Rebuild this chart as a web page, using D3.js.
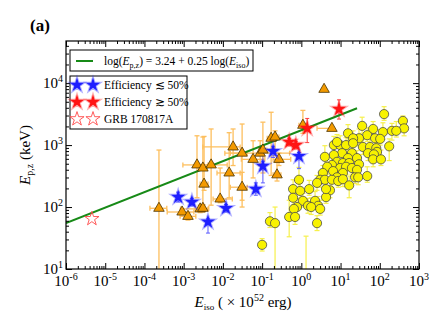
<!DOCTYPE html>
<html>
<head>
<meta charset="utf-8">
<script src="https://cdn.jsdelivr.net/npm/d3@7"></script>
<style>
body { margin: 0; background: #fff; }
text { font-family: "Liberation Serif", "Times New Roman", "DejaVu Serif", serif; fill: #000; }
</style>
</head>
<body>
<svg id="chart" width="447" height="333"></svg>
<script>
// values are log10: Eiso in 1e52 erg, Ep,z in keV
var yelLogE = [2.11, 2.59, 2.62, 1.55, 1.83, 2.08, 2.31, 2.42, 1.19, 1.68,
  1.47, 1.32, 1.88, 2.01, 2.24, 0.83, 0.99, 1.14, 1.32, 1.57,
  1.75, 1.91, 1.93, 1.04, 1.29, 1.70, 1.85, 0.83, 0.60, 1.19,
  1.83, 2.03, 0.91, 1.06, 1.22, 1.42, 0.78, 1.47, 0.66, 0.99,
  1.14, 1.29, 0.81, 1.42, 0.55, 1.06, 0.91, 1.37, 1.45, 1.68,
  0.48, 0.60, 0.78, 0.94, 1.06, -0.06, 0.40, 1.22, 0.73, -0.21,
  -0.03, 0.20, -0.21, 0.04, 0.35, 0.63, 0.17, 0.43, -0.11, -0.19,
  0.25, 0.48, -0.31, -0.16, 0.40, -0.80, -0.67, -1.00, 0.91, 0.12, 0.63];
var yelLogEp = [3.50, 3.39, 3.27, 3.31, 3.26, 3.21, 3.23, 3.23, 3.19, 3.16,
  3.11, 3.11, 3.11, 3.10, 2.98, 3.00, 3.00, 3.00, 3.03, 2.97,
  2.97, 2.95, 2.89, 2.87, 2.87, 2.87, 2.85, 2.84, 2.81, 2.79,
  2.77, 2.77, 2.73, 2.71, 2.71, 2.79, 2.68, 2.69, 2.65, 2.63,
  2.65, 2.63, 2.58, 2.60, 2.55, 2.55, 2.48, 2.48, 2.48, 2.50,
  2.44, 2.44, 2.44, 2.42, 2.45, 2.44, 2.39, 2.35, 2.27, 2.29,
  2.26, 2.29, 2.15, 2.10, 2.10, 2.16, 2.02, 2.02, 2.00, 1.97,
  2.00, 1.97, 1.84, 1.84, 1.74, 1.77, 1.74, 1.39, 3.05, 0.82, 2.29];
var yelErrUp = [0.12, 0.08, 0.15, 0.14, 0.12, 0.15, 0.12, 0.15, 0.14, 0.12,
  0.15, 0.12, 0.14, 0.15, 0.12, 0.14, 0.15, 0.12, 0.14, 0.12,
  0.15, 0.12, 0.14, 0.15, 0.12, 0.14, 0.15, 0.12, 0.18, 0.14,
  0.12, 0.15, 0.12, 0.14, 0.15, 0.12, 0.14, 0.15, 0.12, 0.14,
  0.15, 0.12, 0.14, 0.15, 0.12, 0.14, 0.15, 0.12, 0.14, 0.15,
  0.12, 0.14, 0.15, 0.12, 0.14, 0.20, 0.12, 0.15, 0.14, 0.15,
  0.12, 0.14, 0.15, 0.12, 0.15, 0.14, 0.12, 0.15, 0.14, 0.12,
  0.15, 0.14, 0.27, 0.15, 0.12, 0.14, 0.26, 0.10, 0.12, 0.71, 0.14];
var yelErrDn = [0.10, 0.15, 0.12, 0.12, 0.10, 0.12, 0.15, 0.10, 0.12, 0.10,
  0.12, 0.10, 0.12, 0.10, 0.23, 0.12, 0.10, 0.12, 0.10, 0.12,
  0.10, 0.12, 0.10, 0.12, 0.10, 0.12, 0.10, 0.12, 0.15, 0.10,
  0.12, 0.10, 0.12, 0.10, 0.12, 0.10, 0.12, 0.10, 0.12, 0.10,
  0.12, 0.10, 0.12, 0.10, 0.12, 0.10, 0.12, 0.10, 0.12, 0.10,
  0.12, 0.10, 0.12, 0.10, 0.12, 0.15, 0.12, 0.20, 0.12, 0.10,
  0.12, 0.10, 0.12, 0.10, 0.12, 0.10, 0.12, 0.10, 0.12, 0.10,
  0.12, 0.10, 0.32, 0.12, 0.12, 0.10, 1.00, 0.10, 0.10, 0.00, 0.10];

var triLogE = [-3.63, -3.04, -2.89, -2.58, -2.51, -2.66, -2.51, -2.30, -2.48, -2.07,
  -1.84, -1.74, -1.51, -1.51, -1.23, -1.05, -0.98, -0.77, -0.67, -0.57,
  -0.62, 0.04, 0.58, 0.78];
var triLogEp = [1.98, 1.92, 1.85, 1.97, 1.98, 2.68, 2.63, 2.68, 2.37, 2.13,
  2.55, 2.97, 2.87, 2.32, 2.77, 2.87, 2.92, 3.11, 3.13, 2.77,
  2.52, 3.32, 3.90, 3.27];
var triErrXL = [0.23, 0.38, 0.20, 0.50, 0.20, 0.36, 0.10, 0.20, 0.10, 0.18,
  0.31, 0.77, 0.30, 0.30, 0.30, 0.90, 0.10, 0.10, 0.10, 0.15,
  0.10, 0.10, 0, 0.38];
var triErrXR = [0.20, 0.30, 0.20, 0.20, 0.15, 0.28, 0.10, 0.41, 0.10, 0.31,
  0.28, 0.18, 0.13, 0.13, 0.30, 0.75, 0.10, 0.10, 0.10, 0.30,
  0.10, 0.10, 0, 0];
var triErrYU = [0.94, 0.05, 0.06, 0.06, 0.06, 0.47, 0.50, 0.58, 0.77, 0.50,
  0.65, 0.29, 0.47, 0.24, 0.30, 0.20, 0.45, 0.42, 0.10, 0.10,
  0.20, 0.24, 0, 0];
var triErrYD = [1.30, 0.05, 0.06, 0.06, 0.06, 0.53, 0.60, 0.65, 0.10, 0.06,
  0.40, 0.30, 0.76, 0.32, 0.30, 0.20, 0.37, 0.60, 0.30, 0.10,
  0.10, 0.13, 0, 0];

var blueLogE = [-3.14, -2.79, -2.38, -1.92, -1.16, -0.98, -0.72, -0.06];
var blueLogEp = [2.16, 2.08, 1.76, 1.98, 2.29, 2.66, 2.90, 2.82];
var blueErrU = [0.08, 0.06, 0.05, 0.06, 0.10, 0.08, 0.08, 0.06];
var blueErrD = [0.08, 0.06, 0.18, 0.06, 0.10, 0.27, 0.10, 0.20];

var redLogE = [-0.31, -0.14, 0.15, 0.96];
var redLogEp = [3.05, 3.00, 3.27, 3.58];
var redErrU = [0.06, 0.06, 0.16, 0.15];
var redErrD = [0.06, 0.06, 0.23, 0.16];

var grbLogE = [-5.34];
var grbLogEp = [1.81];

// best fit from the legend
var fitA = 3.24, fitB = 0.25;
var fitLogE = [-6, 1.42];

var xDecades = [-6, -5, -4, -3, -2, -1, 0, 1, 2, 3];
var yDecades = [1, 2, 3, 4];

var svg = d3.select('#chart');
var mLeft = 66, mRight = 419, mTop = 41, mBottom = 269;

var x = d3.scaleLog().domain([1e-6, 1e3]).range([mLeft, mRight]);
var y = d3.scaleLog().domain([10, Math.pow(10, 4.68)]).range([mBottom, mTop]);
var p10 = function (v) { return Math.pow(10, v); };

svg.append('defs').append('clipPath').attr('id', 'plotclip')
  .append('rect').attr('x', mLeft).attr('y', mTop)
  .attr('width', mRight - mLeft).attr('height', mBottom - mTop);

var plot = svg.append('g').attr('clip-path', 'url(#plotclip)');

function errBars(g, xs, ys, xl, xr, yu, yd, color, width, cap) {
  for (var i = 0; i < xs.length; i++) {
    var cx = x(p10(xs[i])), cy = y(p10(ys[i]));
    if (yu[i] > 0 || yd[i] > 0) {
      var y1 = y(p10(ys[i] + yu[i])), y2 = y(p10(ys[i] - yd[i]));
      g.append('line').attr('x1', cx).attr('x2', cx).attr('y1', y1).attr('y2', y2)
        .attr('stroke', color).attr('stroke-width', width);
      if (yu[i] > 0) g.append('line').attr('x1', cx - cap).attr('x2', cx + cap).attr('y1', y1).attr('y2', y1)
        .attr('stroke', color).attr('stroke-width', width);
      if (yd[i] > 0) g.append('line').attr('x1', cx - cap).attr('x2', cx + cap).attr('y1', y2).attr('y2', y2)
        .attr('stroke', color).attr('stroke-width', width);
    }
    if (xl && (xl[i] > 0 || xr[i] > 0)) {
      var x1 = x(p10(xs[i] - xl[i])), x2 = x(p10(xs[i] + xr[i]));
      g.append('line').attr('x1', x1).attr('x2', x2).attr('y1', cy).attr('y2', cy)
        .attr('stroke', color).attr('stroke-width', width);
      if (xl[i] > 0) g.append('line').attr('x1', x1).attr('x2', x1).attr('y1', cy - cap).attr('y2', cy + cap)
        .attr('stroke', color).attr('stroke-width', width);
      if (xr[i] > 0) g.append('line').attr('x1', x2).attr('x2', x2).attr('y1', cy - cap).attr('y2', cy + cap)
        .attr('stroke', color).attr('stroke-width', width);
    }
  }
}

errBars(plot, triLogE, triLogEp, triErrXL, triErrXR, triErrYU, triErrYD, '#fdbf5e', 1.3, 2.5);
errBars(plot, yelLogE, yelLogEp, null, null, yelErrUp, yelErrDn, '#f6f04a', 1.2, 2.5);
errBars(plot, blueLogE, blueLogEp, null, null, blueErrU, blueErrD, '#5a5aff', 1, 2);
errBars(plot, redLogE, redLogEp, null, null, redErrU, redErrD, '#ff4040', 1, 2);

// fit line
var fitLine = d3.line()
  .x(function (d) { return x(p10(d)); })
  .y(function (d) { return y(p10(fitA + fitB * d)); });
plot.append('path').datum(fitLogE).attr('d', fitLine)
  .attr('fill', 'none').attr('stroke', '#178a17').attr('stroke-width', 2);

// yellow circles
plot.selectAll('circle.yel').data(d3.range(yelLogE.length)).enter()
  .append('circle').attr('class', 'yel')
  .attr('cx', function (i) { return x(p10(yelLogE[i])); })
  .attr('cy', function (i) { return y(p10(yelLogEp[i])); })
  .attr('r', 4.6)
  .attr('fill', '#f8f200').attr('stroke', '#4a4a4a').attr('stroke-width', 0.8);

// orange triangles
var tri = d3.symbol().type(d3.symbolTriangle).size(48);
plot.selectAll('path.tri').data(d3.range(triLogE.length)).enter()
  .append('path').attr('class', 'tri').attr('d', tri)
  .attr('transform', function (i) { return 'translate(' + x(p10(triLogE[i])) + ',' + y(p10(triLogEp[i])) + ')'; })
  .attr('fill', '#f39a00').attr('stroke', '#4a3200').attr('stroke-width', 0.8);

var star = d3.symbol().type(d3.symbolStar).size(62);
function stars(g, xs, ys, fill) {
  g.selectAll(null).data(d3.range(xs.length)).enter()
    .append('path').attr('d', star)
    .attr('transform', function (i) { return 'translate(' + x(p10(xs[i])) + ',' + y(p10(ys[i])) + ')'; })
    .attr('fill', fill).attr('stroke', fill).attr('stroke-opacity', 0.35).attr('stroke-width', 2);
}
stars(plot, blueLogE, blueLogEp, '#1f1fff');
stars(plot, redLogE, redLogEp, '#ff1414');
plot.selectAll(null).data(d3.range(grbLogE.length)).enter()
  .append('path').attr('d', star)
  .attr('transform', function (i) { return 'translate(' + x(p10(grbLogE[i])) + ',' + y(p10(grbLogEp[i])) + ')'; })
  .attr('fill', 'none').attr('stroke', '#ff4a4a').attr('stroke-width', 0.9);

// axes: ticks point inward on all four sides
var xMajor = xDecades.map(p10);
var xMinor = [];
xDecades.slice(0, -1).forEach(function (k) { for (var m = 2; m < 10; m++) xMinor.push(m * p10(k)); });
var yMajor = yDecades.map(p10);
var yMinor = [];
yDecades.forEach(function (k) { for (var m = 2; m < 10; m++) { var v = m * p10(k); if (v < p10(4.68)) yMinor.push(v); } });

function drawAxis(axisFn, scale, vals, size, tr) {
  svg.append('g').attr('transform', tr)
    .call(axisFn(scale).tickValues(vals).tickSize(size).tickFormat(''))
    .call(function (g) { g.select('.domain').remove(); })
    .selectAll('line').attr('stroke', '#000').attr('stroke-width', 1);
}
drawAxis(d3.axisBottom, x, xMajor, -6, 'translate(0,' + mBottom + ')');
drawAxis(d3.axisBottom, x, xMinor, -3, 'translate(0,' + mBottom + ')');
drawAxis(d3.axisTop, x, xMajor, -6, 'translate(0,' + mTop + ')');
drawAxis(d3.axisTop, x, xMinor, -3, 'translate(0,' + mTop + ')');
drawAxis(d3.axisLeft, y, yMajor, -6, 'translate(' + mLeft + ',0)');
drawAxis(d3.axisLeft, y, yMinor, -3, 'translate(' + mLeft + ',0)');
drawAxis(d3.axisRight, y, yMajor, -6, 'translate(' + mRight + ',0)');
drawAxis(d3.axisRight, y, yMinor, -3, 'translate(' + mRight + ',0)');

svg.append('rect').attr('x', mLeft).attr('y', mTop)
  .attr('width', mRight - mLeft).attr('height', mBottom - mTop)
  .attr('fill', 'none').attr('stroke', '#000').attr('stroke-width', 1.2);

// tick labels
xDecades.forEach(function (k) {
  var t = svg.append('text').attr('x', x(p10(k))).attr('y', mBottom + 17)
    .attr('text-anchor', 'middle').attr('font-size', 15);
  t.append('tspan').text('10');
  t.append('tspan').attr('dy', -6).attr('font-size', 10).text(k);
});
yDecades.forEach(function (k) {
  var t = svg.append('text').attr('x', mLeft - 3).attr('y', y(p10(k)) + 5)
    .attr('text-anchor', 'end').attr('font-size', 15);
  t.append('tspan').text('10');
  t.append('tspan').attr('dy', -6).attr('font-size', 10).text(k);
});

// axis titles
var xt = svg.append('text').attr('x', 243).attr('y', 307)
  .attr('text-anchor', 'middle').attr('font-size', 15);
xt.append('tspan').attr('font-style', 'italic').text('E');
xt.append('tspan').attr('dy', 3).attr('font-size', 9).text('iso');
xt.append('tspan').attr('dy', -3).text('  ( \u00d7 10');
xt.append('tspan').attr('dy', -6).attr('font-size', 10).text('52');
xt.append('tspan').attr('dy', 6).text('  erg)');

var yt = svg.append('text').attr('transform', 'translate(30,155) rotate(-90)')
  .attr('text-anchor', 'middle').attr('font-size', 15);
yt.append('tspan').attr('font-style', 'italic').text('E');
yt.append('tspan').attr('dy', 3).attr('font-size', 10).text('p,z');
yt.append('tspan').attr('dy', -3).text('  (keV)');

svg.append('text').attr('x', 30).attr('y', 31).attr('font-size', 17)
  .attr('font-weight', 'bold').text('(a)');

// legend: fit
svg.append('rect').attr('x', 70).attr('y', 50).attr('width', 183).attr('height', 21)
  .attr('fill', '#fff').attr('stroke', '#000').attr('stroke-width', 1);
svg.append('line').attr('x1', 76).attr('x2', 93).attr('y1', 61).attr('y2', 61)
  .attr('stroke', '#178a17').attr('stroke-width', 2);
var lt = svg.append('text').attr('x', 104).attr('y', 65).attr('font-size', 11.5);
lt.append('tspan').text('log(');
lt.append('tspan').attr('font-style', 'italic').text('E');
lt.append('tspan').attr('dy', 2.5).attr('font-size', 8).text('p,z');
lt.append('tspan').attr('dy', -2.5).text(') = 3.24  + 0.25 log(');
lt.append('tspan').attr('font-style', 'italic').text('E');
lt.append('tspan').attr('dy', 2.5).attr('font-size', 8).text('iso');
lt.append('tspan').attr('dy', -2.5).text(')');

// legend: markers
svg.append('rect').attr('x', 70).attr('y', 76).attr('width', 117).attr('height', 53)
  .attr('fill', '#fff').attr('stroke', '#000').attr('stroke-width', 1);
var legRows = [
  { label: 'Efficiency \u2272 50%', fill: '#1f1fff', stroke: '#1f1fff' },
  { label: 'Efficiency \u2273 50%', fill: '#ff1414', stroke: '#ff1414' },
  { label: 'GRB 170817A', fill: 'none', stroke: '#ff4a4a' }
];
legRows.forEach(function (r, i) {
  var cy = 85 + i * 17;
  [77, 93].forEach(function (cx) {
    svg.append('path').attr('d', star).attr('transform', 'translate(' + cx + ',' + cy + ')')
      .attr('fill', r.fill).attr('stroke', r.stroke)
      .attr('stroke-opacity', r.fill === 'none' ? 1 : 0.35)
      .attr('stroke-width', r.fill === 'none' ? 0.9 : 2);
  });
  svg.append('text').attr('x', 104).attr('y', cy + 4).attr('font-size', 11.5).text(r.label);
});
</script>
</body>
</html>
